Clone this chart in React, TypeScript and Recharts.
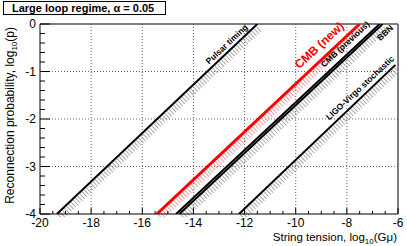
import React from 'react';
import { LineChart, Line, XAxis, YAxis, ReferenceLine, ReferenceDot } from 'recharts';

// Exclusion lines: log10(G mu) against log10(p)
const pulsarTiming = [{ gmu: -19.34, p: -4 }, { gmu: -11.5, p: 0 }];
const cmbNew = [{ gmu: -15.43, p: -4 }, { gmu: -7.5, p: 0 }];
const cmbPrevious = [{ gmu: -14.68, p: -4 }, { gmu: -6.72, p: 0 }];
const bbn = [{ gmu: -14.55, p: -4 }, { gmu: -6.6, p: 0 }];
const ligoVirgo = [{ gmu: -12.22, p: -4 }, { gmu: -6.1, p: -0.86 }];

// axis ticks (majors get labels)
const xMajorTicks = [-20, -18, -16, -14, -12, -10, -8, -6];
const xTicks = [
  -20, -19.5, -19, -18.5, -18, -17.5, -17, -16.5, -16, -15.5, -15, -14.5, -14, -13.5, -13,
  -12.5, -12, -11.5, -11, -10.5, -10, -9.5, -9, -8.5, -8, -7.5, -7, -6.5, -6,
];
const yMajorTicks = [0, -1, -2, -3, -4];
const yTicks = [
  0, -0.2, -0.4, -0.6, -0.8, -1, -1.2, -1.4, -1.6, -1.8, -2, -2.2, -2.4, -2.6, -2.8, -3,
  -3.2, -3.4, -3.6, -3.8, -4,
];
const xGrid = [-18, -16, -14, -12, -10, -8];
const yGrid = [-1, -2, -3];

// line labels, placed in data coordinates
const annotations = [
  { text: 'Pulsar timing', gmu: -12.62, p: -0.47, color: '#000', size: 8.5 },
  { text: 'CMB (new)', gmu: -8.97, p: -0.51, color: '#ff0000', size: 12 },
  { text: 'CMB (previous)', gmu: -7.99, p: -0.47, color: '#000', size: 8.5 },
  { text: 'BBN', gmu: -6.43, p: -0.23, color: '#000', size: 8.5 },
  { text: 'LIGO-Virgo stochastic', gmu: -7.41, p: -1.39, color: '#000', size: 8.5 },
];

const FONT = '"Liberation Sans", Arial, Helvetica, sans-serif';

const XTick = (props: any) => {
  const { x, y, payload } = props;
  const major = xMajorTicks.includes(payload.value);
  return (
    <g>
      <line x1={x} y1={y} x2={x} y2={y - (major ? 6 : 3)} stroke="#000" />
      {major && (
        <text x={x} y={y + 13} textAnchor="middle" fontSize={12} fontFamily={FONT} fill="#000">
          {payload.value}
        </text>
      )}
    </g>
  );
};

const YTick = (props: any) => {
  const { x, y, payload } = props;
  const major = yMajorTicks.includes(payload.value);
  return (
    <g>
      <line x1={x} y1={y} x2={x + (major ? 10 : 5)} y2={y} stroke="#000" />
      {major && (
        <text x={x - 4} y={y + 4} textAnchor="end" fontSize={12} fontFamily={FONT} fill="#000">
          {payload.value}
        </text>
      )}
    </g>
  );
};

const hatchStyle = `
.hatch path { transform: translate(3.2px, 3.3px); }
`;

export default function App() {
  return (
    <div style={{ position: 'absolute', left: 0, top: 0, width: 407, height: 246, background: '#fff' }}>
      <style>{hatchStyle}</style>
      <LineChart width={407} height={246} margin={{ top: 24, right: 9, left: 0, bottom: 0 }}>
        <XAxis
          dataKey="gmu"
          type="number"
          domain={[-20, -6]}
          ticks={xTicks}
          interval={0}
          allowDataOverflow
          height={32}
          tickSize={0}
          tickMargin={0}
          tickLine={false}
          axisLine={{ stroke: '#000' }}
          tick={<XTick />}
        />
        <YAxis
          type="number"
          domain={[-4, 0]}
          ticks={yTicks}
          interval={0}
          allowDataOverflow
          width={40}
          tickSize={0}
          tickMargin={0}
          tickLine={false}
          axisLine={{ stroke: '#000' }}
          tick={<YTick />}
        />
        {xGrid.map((v) => (
          <ReferenceLine key={'gx' + v} x={v} stroke="#666" strokeDasharray="1 2" />
        ))}
        {yGrid.map((v) => (
          <ReferenceLine key={'gy' + v} y={v} stroke="#666" strokeDasharray="1 2" />
        ))}
        <ReferenceLine y={0} stroke="#555" strokeWidth={1.5} />
        <ReferenceLine x={-6} stroke="#555" strokeWidth={1.5} />

        {/* hatching on the excluded side */}
        <Line className="hatch" data={pulsarTiming} dataKey="p" stroke="#aaa" strokeWidth={7} strokeDasharray="1 2" dot={false} isAnimationActive={false} />
        <Line className="hatch" data={cmbNew} dataKey="p" stroke="#f4a0a0" strokeWidth={7} strokeDasharray="1 2" dot={false} isAnimationActive={false} />
        <Line className="hatch" data={bbn} dataKey="p" stroke="#aaa" strokeWidth={7} strokeDasharray="1 2" dot={false} isAnimationActive={false} />
        <Line className="hatch" data={ligoVirgo} dataKey="p" stroke="#aaa" strokeWidth={7} strokeDasharray="1 2" dot={false} isAnimationActive={false} />

        <Line data={pulsarTiming} dataKey="p" stroke="#000" strokeWidth={2} dot={false} isAnimationActive={false} />
        <Line data={cmbNew} dataKey="p" stroke="#ff0000" strokeWidth={3} dot={false} isAnimationActive={false} />
        <Line data={cmbPrevious} dataKey="p" stroke="#000" strokeWidth={2} dot={false} isAnimationActive={false} />
        <Line data={bbn} dataKey="p" stroke="#000" strokeWidth={2} dot={false} isAnimationActive={false} />
        <Line data={ligoVirgo} dataKey="p" stroke="#000" strokeWidth={2} dot={false} isAnimationActive={false} />

        {annotations.map((a) => (
          <ReferenceDot
            key={a.text}
            x={a.gmu}
            y={a.p}
            r={0}
            shape={(p: any) => (
              <text
                x={p.cx}
                y={p.cy}
                transform={`rotate(-43 ${p.cx} ${p.cy})`}
                textAnchor="middle"
                fontSize={a.size}
                fontWeight="bold"
                fontFamily={FONT}
                fill={a.color}
              >
                {a.text}
              </text>
            )}
          />
        ))}
      </LineChart>

      <svg width={407} height={246} style={{ position: 'absolute', left: 0, top: 0, pointerEvents: 'none' }}>
        <rect x={3.5} y={1.5} width={162} height={13} fill="#fff" stroke="#000" />
        <text x={12} y={12} fontSize={11} fontWeight="bold" fontFamily={FONT} fill="#000">
          Large loop regime, α = 0.05
        </text>
        <text transform="translate(14 27) rotate(-90)" textAnchor="end" fontSize={12} fontFamily={FONT} fill="#000">
          Reconnection probability, log
          <tspan fontSize={8} dy={3}>10</tspan>
          <tspan dy={-3}>(p)</tspan>
        </text>
        <text x={397} y={241} textAnchor="end" fontSize={11.5} fontFamily={FONT} fill="#000">
          String tension, log
          <tspan fontSize={8} dy={2.5}>10</tspan>
          <tspan dy={-2.5}>(Gμ)</tspan>
        </text>
      </svg>
    </div>
  );
}
